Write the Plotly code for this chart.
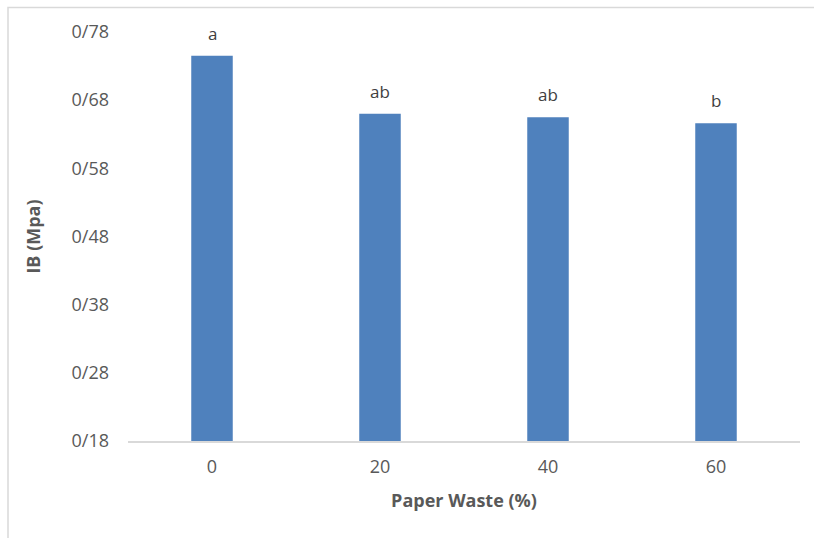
import plotly.graph_objects as go

categories = ["0", "20", "40", "60"]
ib_values = [0.745, 0.660, 0.655, 0.646]
letters = ["a", "ab", "ab", "b"]
tick_vals = [0.18, 0.28, 0.38, 0.48, 0.58, 0.68, 0.78]
tick_text = ["0/18", "0/28", "0/38", "0/48", "0/58", "0/68", "0/78"]

FONT = "Open Sans, Noto Sans, sans-serif"
TXT = "#595959"

fig = go.Figure(go.Bar(
    x=categories, y=ib_values,
    marker=dict(color="#4F81BD", line=dict(width=0)),
    width=0.247,
))

for i, (v, t) in enumerate(zip(ib_values, letters)):
    fig.add_annotation(x=i, y=v, text=t, showarrow=False, yanchor="bottom",
                       yshift=9, font=dict(family=FONT, size=17, color="#404040"))

fig.add_shape(type="rect", xref="paper", yref="paper",
              x0=(8 - 128) / 672, x1=(830 - 128) / 672,
              y0=(441 - 560) / 409, y1=(441 - 7.5) / 409,
              line=dict(color="#D9D9D9", width=1.5), fillcolor="rgba(0,0,0,0)", layer="below")

fig.update_layout(
    width=814, height=538,
    margin=dict(l=128, r=14, t=32, b=97),
    paper_bgcolor="white", plot_bgcolor="white",
    showlegend=False,
    font=dict(family=FONT, size=18, color=TXT),
    xaxis=dict(
        type="category", range=[-0.5, 3.5], showgrid=False, showline=True,
        linecolor="#D9D9D9", linewidth=1.5,
        ticks="", ticklabelstandoff=9,
        tickfont=dict(family=FONT, size=18, color=TXT),
        title=dict(text="<b>Paper Waste (%)</b>", font=dict(family=FONT, size=18, color=TXT), standoff=17),
    ),
    yaxis=dict(
        range=[0.18, 0.78], tickvals=tick_vals, ticktext=tick_text,
        showgrid=False, showline=False, zeroline=False, ticks="",
        ticklabelstandoff=18,
        tickfont=dict(family=FONT, size=18, color=TXT),
        title=dict(text="<b>IB (Mpa)</b>", font=dict(family=FONT, size=18, color=TXT), standoff=26),
    ),
)

fig.write_html("out.html", config={"displayModeBar": False},
               post_script="document.body.style.margin='0';")
